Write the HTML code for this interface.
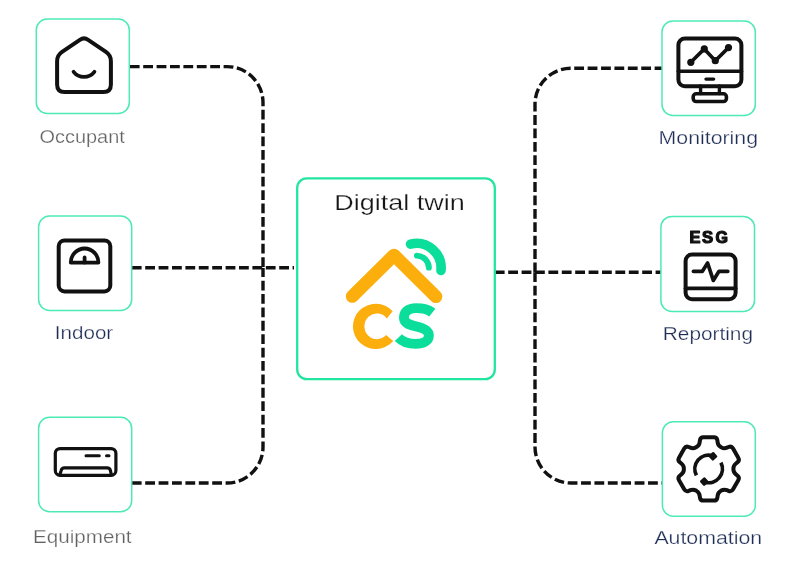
<!DOCTYPE html>
<html><head><meta charset="utf-8"><style>
html,body{margin:0;padding:0;background:#fff;width:800px;height:563px;overflow:hidden}
svg{display:block;will-change:transform}
text{font-family:"Liberation Sans",sans-serif}
</style></head><body>
<svg width="800" height="563" viewBox="0 0 800 563">
<rect width="800" height="563" fill="#fff"/>
<g fill="none" stroke="#111" stroke-width="3.4" stroke-dasharray="9.8 3.6">
<path d="M129.8 66.6 H227 A36 36 0 0 1 263 102.6 V268"/>
<path d="M131.8 483 H227 A36 36 0 0 0 263 447 V268"/>
<path d="M131.8 267.8 H294"/>
<path d="M494.8 272.3 H661"/>
<path d="M535 272.3 V104.2 A36 36 0 0 1 571 68.2 H662"/>
<path d="M535 272.3 V447 A36 36 0 0 0 571 483 H662.4"/>
</g>
<g fill="#fff" stroke="#4debb3" stroke-width="1.5">
<rect x="36.3" y="19" width="93" height="94.5" rx="11"/>
<rect x="38.6" y="216.1" width="93.1" height="94.3" rx="11"/>
<rect x="38.6" y="417.2" width="93.1" height="94.5" rx="11"/>
<rect x="662" y="21.1" width="93.3" height="94.4" rx="11"/>
<rect x="660.9" y="216.4" width="93.6" height="95" rx="11"/>
<rect x="662.4" y="421.7" width="92.9" height="94.5" rx="11"/>
</g>
<rect x="297.2" y="178.3" width="197.6" height="200.8" rx="9.5" fill="#fff" stroke="#22e6a0" stroke-width="2.3"/>
<g fill="none" stroke="#111" stroke-width="3.6" stroke-linecap="round" stroke-linejoin="round">
<path d="M62.07 51.84 L79.86 39.80 Q84.00 37.00 88.14 39.80 L105.93 51.84 Q110.90 55.20 110.90 61.20 L110.90 84.50 Q110.90 92.00 103.40 92.00 L64.60 92.00 Q57.10 92.00 57.10 84.50 L57.10 61.20 Q57.10 55.20 62.07 51.84Z" stroke-width="4"/>
<path d="M73.6 71.8 A13.2 13.2 0 0 0 94.4 71.8" stroke-width="3.8"/>
<rect x="58.7" y="240.4" width="51.6" height="51" rx="5.8" stroke-width="4"/>
<path d="M70.8 262.6 A13.8 14.1 0 0 1 98.4 262.6 Z" stroke-width="3.8"/>
<path d="M84.6 257.4 V262.6" stroke-width="3.8"/>
<rect x="55.3" y="448.6" width="60.6" height="26.7" rx="4.8" stroke-width="3.2"/>
<path d="M86 455.7 H99.3 M106.5 455.7 H109" stroke-width="3"/>
<path d="M59.8 475 L61.2 470.4 Q61.9 467.9 64.4 467.9 L107.2 467.9 Q109.7 467.9 110.4 470.4 L111.4 475" stroke-width="3.2"/>
<rect x="678.4" y="38.4" width="63" height="47.9" rx="6.5" stroke-width="4"/>
<path d="M678.4 71.2 H741.4" stroke-width="3.6"/>
<path d="M706 79.1 H713.6" stroke-width="3.4"/>
<path d="M700.6 86 V93.6 M719.4 86 V93.6" stroke-width="3.4"/>
<rect x="693.2" y="93.8" width="33.2" height="7.7" rx="3" stroke-width="3.6"/>
<path d="M690.8 62.3 L704.3 48.9 L715.3 60.7 L728.5 47.6" stroke-width="3.6"/>
<rect x="685.6" y="254.5" width="50" height="44.8" rx="6.5" stroke-width="4"/>
<path d="M685.6 288.3 H735.6" stroke-width="3.8"/>
<path d="M693.4 271.3 H702.4 L707.6 263 L713.3 280.4 L719 271.3 H727.8" stroke-width="3.7"/>
<path d="M703.49 437.28 L713.81 437.28 Q717.01 437.28 717.40 440.46 L717.62 442.25 Q718.02 445.42 720.78 447.04 L721.28 447.34 Q724.04 448.95 726.98 447.70 L728.55 447.03 Q731.49 445.77 733.07 448.55 L738.27 457.68 Q739.85 460.46 737.31 462.42 L735.94 463.47 Q733.41 465.42 733.41 468.62 L733.41 469.28 Q733.41 472.48 735.94 474.43 L737.31 475.48 Q739.85 477.44 738.27 480.22 L733.07 489.35 Q731.49 492.13 728.55 490.87 L726.98 490.20 Q724.04 488.95 721.28 490.56 L720.78 490.86 Q718.02 492.48 717.62 495.65 L717.40 497.44 Q717.01 500.62 713.81 500.62 L703.49 500.62 Q700.29 500.62 699.90 497.44 L699.68 495.65 Q699.28 492.48 696.52 490.86 L696.02 490.56 Q693.26 488.95 690.32 490.20 L688.75 490.87 Q685.81 492.13 684.23 489.35 L679.03 480.22 Q677.45 477.44 679.99 475.48 L681.36 474.43 Q683.89 472.48 683.89 469.28 L683.89 468.62 Q683.89 465.42 681.36 463.47 L679.99 462.42 Q677.45 460.46 679.03 457.68 L684.23 448.55 Q685.81 445.77 688.75 447.03 L690.32 447.70 Q693.26 448.95 696.02 447.34 L696.52 447.04 Q699.28 445.42 699.68 442.25 L699.90 440.46 Q700.29 437.28 703.49 437.28Z" stroke-width="4"/>
<path d="M696.39 475.28 A13.8 13.8 0 0 1 712.45 455.68 M720.91 462.62 A13.8 13.8 0 0 1 704.85 482.22" stroke-width="3.7" stroke-linecap="butt"/>
</g>
<g fill="#111">
<circle cx="690.8" cy="62.3" r="3.6"/><circle cx="704.3" cy="48.9" r="3.6"/><circle cx="715.3" cy="60.7" r="3.6"/><circle cx="728.5" cy="47.6" r="3.6"/>
<rect x="709.61" y="452.88" width="6.8" height="6.8" rx="1.2" transform="rotate(48 713.01 456.28)"/>
<rect x="700.89" y="478.22" width="6.8" height="6.8" rx="1.2" transform="rotate(48 704.29 481.62)"/>
</g>
<path d="M352.3 296.4 L394 255.1 L435.9 296.6" fill="none" stroke="#fcae0c" stroke-width="12.9" stroke-linecap="round" stroke-linejoin="round"/>
<path d="M410.55 244.13 A24.6 24.6 0 0 1 440.97 270.57" fill="none" stroke="#0ade9a" stroke-width="9.6" stroke-linecap="round"/>
<path d="M416.93 255.61 A12.4 12.4 0 0 1 428.89 267.57" fill="none" stroke="#0ade9a" stroke-width="5.9" stroke-linecap="round"/>
<path d="M392.6 311.2 A22.8 22.6 0 1 0 393.2 340.9 L386.1 335.1 A12.5 12.9 0 1 1 386.9 318.6 Z" fill="#fcae0c"/>
<path d="M432.3 312.6 C428.5 309.6 422.5 308.2 416 308.2 C408.5 308.2 403.9 311.8 403.9 317.6 C403.9 323.8 410.5 325.2 416 326.4 C423.5 328 428.9 330.2 428.9 335.6 C428.9 341.2 423 343.9 415.8 343.9 C408.5 343.9 401.8 341.2 398.4 337.6" fill="none" stroke="#0ade9a" stroke-width="9.8"/>
<text x="334.35" y="210.2" font-size="22.5" fill="#161616" stroke="#fff" stroke-width="0.25" textLength="130.45" lengthAdjust="spacingAndGlyphs">Digital twin</text>
<g font-size="16.2" font-weight="bold" fill="#111" stroke="#111" stroke-width="1.2" stroke-linejoin="round">
<text x="689.5" y="242.6" textLength="10.94" lengthAdjust="spacingAndGlyphs">E</text>
<text x="702.12" y="242.6" textLength="11.14" lengthAdjust="spacingAndGlyphs">S</text>
<text x="715.54" y="242.6" textLength="12.45" lengthAdjust="spacingAndGlyphs">G</text>
</g>
<g font-size="18" stroke="#fff" stroke-width="0.25">
<text x="39.6" y="142.7" fill="#626262" textLength="85.2" lengthAdjust="spacingAndGlyphs">Occupant</text>
<text x="54.8" y="339.4" fill="#1f2d57" textLength="58.4" lengthAdjust="spacingAndGlyphs">Indoor</text>
<text x="33" y="543" fill="#626262" textLength="98.6" lengthAdjust="spacingAndGlyphs">Equipment</text>
<text x="658.6" y="144.3" fill="#1f2d57" textLength="99.4" lengthAdjust="spacingAndGlyphs">Monitoring</text>
<text x="662.8" y="339.8" fill="#1f2d57" textLength="90.2" lengthAdjust="spacingAndGlyphs">Reporting</text>
<text x="654.4" y="544.2" fill="#1f2d57" textLength="107.8" lengthAdjust="spacingAndGlyphs">Automation</text>
</g>
</svg>
</body></html>
